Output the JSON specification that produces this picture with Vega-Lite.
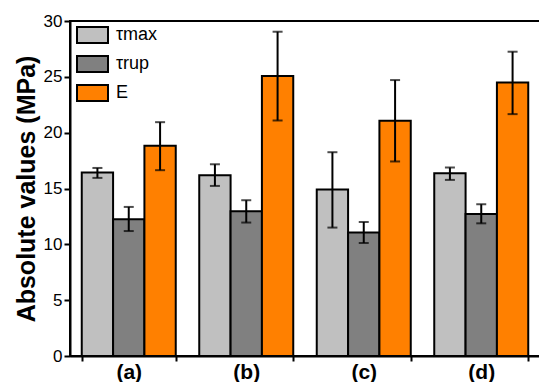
{
  "$schema": "https://vega.github.io/schema/vega-lite/v6.json",
  "autosize": "none",
  "width": 470,
  "height": 335,
  "padding": {"left": 70, "top": 21, "right": 0, "bottom": 26},
  "background": "white",
  "config": {
    "font": "Liberation Sans",
    "view": {"stroke": "black", "strokeWidth": 2}
  },
  "data": {
    "values": [
      {"group": "(a)", "series": "τmax", "value": 16.43, "lo": 15.95, "hi": 16.84},
      {"group": "(a)", "series": "τrup", "value": 12.24, "lo": 11.19, "hi": 13.35},
      {"group": "(a)", "series": "E", "value": 18.82, "lo": 16.64, "hi": 20.94},
      {"group": "(b)", "series": "τmax", "value": 16.19, "lo": 15.23, "hi": 17.17},
      {"group": "(b)", "series": "τrup", "value": 12.96, "lo": 11.95, "hi": 13.95},
      {"group": "(b)", "series": "E", "value": 25.07, "lo": 21.09, "hi": 29.04},
      {"group": "(c)", "series": "τmax", "value": 14.9, "lo": 11.5, "hi": 18.25},
      {"group": "(c)", "series": "τrup", "value": 11.05, "lo": 10.12, "hi": 12.0},
      {"group": "(c)", "series": "E", "value": 21.06, "lo": 17.42, "hi": 24.71},
      {"group": "(d)", "series": "τmax", "value": 16.37, "lo": 15.77, "hi": 16.88},
      {"group": "(d)", "series": "τrup", "value": 12.72, "lo": 11.88, "hi": 13.59},
      {"group": "(d)", "series": "E", "value": 24.5, "lo": 21.66, "hi": 27.25}
    ]
  },
  "encoding": {
    "x": {
      "field": "group", "type": "nominal",
      "scale": {"paddingInner": 0.2, "paddingOuter": 0.1},
      "axis": {
        "title": null, "labelAngle": 0, "labelFontSize": 21, "labelFontWeight": "bold",
        "labelColor": "black", "tickBand": "extent", "tickSize": 5, "tickWidth": 2,
        "tickColor": "black", "domainColor": "black", "domainWidth": 2, "labelPadding": 0
      }
    },
    "xOffset": {
      "field": "series", "type": "nominal", "sort": ["τmax", "τrup", "E"],
      "scale": {"paddingInner": 0, "paddingOuter": 0}
    }
  },
  "layer": [
    {
      "mark": {"type": "bar", "stroke": "black", "strokeWidth": 2, "opacity": 1},
      "encoding": {
        "y": {
          "field": "value", "type": "quantitative",
          "scale": {"domain": [0, 30], "nice": false},
          "axis": {
            "title": "Absolute values (MPa)", "titleFontSize": 25, "titleFontWeight": "bold",
            "titleColor": "black", "titlePadding": 4,
            "values": [0, 2.5, 5, 7.5, 10, 12.5, 15, 17.5, 20, 22.5, 25, 27.5, 30],
            "labelExpr": "datum.value % 5 === 0 ? datum.label : ''",
            "labelFontSize": 17, "labelColor": "black", "labelPadding": 2,
            "tickSize": {"condition": {"test": "datum.value % 5 === 0", "value": 6}, "value": 3},
            "tickWidth": 2, "tickColor": "black", "domainColor": "black", "domainWidth": 2,
            "grid": false
          }
        },
        "color": {
          "field": "series", "type": "nominal", "sort": ["τmax", "τrup", "E"],
          "scale": {"domain": ["τmax", "τrup", "E"], "range": ["#c0c0c0", "#808080", "#ff8000"]},
          "legend": {
            "title": null, "orient": "none", "legendX": 6, "legendY": -2.5,
            "symbolType": "M-1,-0.516H1V0.516H-1Z", "symbolSize": 961,
            "symbolStrokeColor": "black", "symbolStrokeWidth": 2, "symbolOpacity": 1,
            "labelFontSize": 18, "labelColor": "black", "labelOffset": 7,
            "rowPadding": -4, "padding": 0
          }
        }
      }
    },
    {
      "mark": {"type": "rule", "color": "black", "strokeWidth": 2},
      "encoding": {
        "y": {"field": "lo", "type": "quantitative"},
        "y2": {"field": "hi"}
      }
    },
    {
      "mark": {"type": "tick", "color": "black", "size": 10, "thickness": 2, "orient": "horizontal"},
      "encoding": {"y": {"field": "lo", "type": "quantitative"}}
    },
    {
      "mark": {"type": "tick", "color": "black", "size": 10, "thickness": 2, "orient": "horizontal"},
      "encoding": {"y": {"field": "hi", "type": "quantitative"}}
    }
  ]
}
